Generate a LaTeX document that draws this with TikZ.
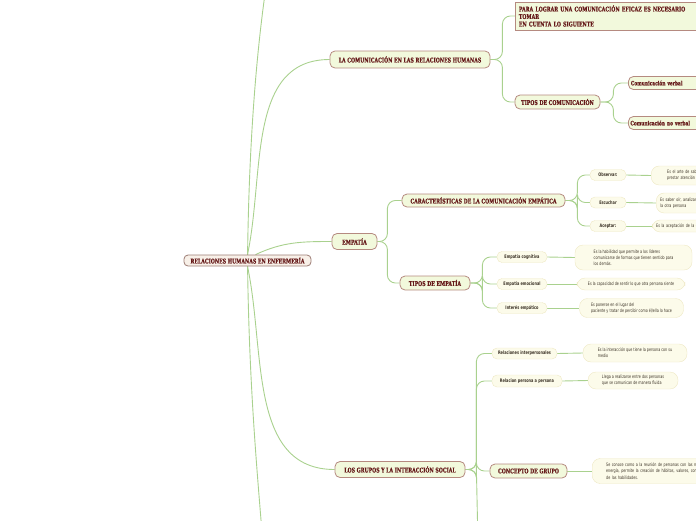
\documentclass[tikz,border=0pt]{standalone}
\usepackage{fontspec}
\setmainfont{DejaVu Sans}
\newfontfamily\slabfont[FakeStretch=0.72, FakeBold=0.4]{DejaVu Serif}
\newfontfamily\narrowfont[FakeStretch=0.72]{DejaVu Sans}
\usetikzlibrary{positioning, calc, backgrounds}
\definecolor{Maroon}{HTML}{661A1A}
\definecolor{RootFill}{HTML}{F8F0E8}
\definecolor{RootLine}{HTML}{9C7C74}
\definecolor{TopicFill}{HTML}{F2F9DC}
\definecolor{TopicLine}{HTML}{B58A80}
\definecolor{ItemFill}{HTML}{FCFBEA}
\definecolor{ItemLine}{HTML}{EEE8C4}
\definecolor{ItemText}{HTML}{3B3226}
\definecolor{Branch}{HTML}{A9D18E}

\tikzset{
    rootbox/.style={draw=RootLine, fill=RootFill, rounded corners=4pt, thick, text=Maroon,
        font=\slabfont\bfseries\fontsize{6.5}{7.5}\selectfont, inner sep=1pt},
    topic/.style={draw=TopicLine, fill=TopicFill, rounded corners=5pt, thick, text=Maroon,
        font=\slabfont\bfseries\fontsize{6.5}{7.5}\selectfont, inner sep=1pt},
    subtopic/.style={topic, font=\slabfont\bfseries\fontsize{6}{7}\selectfont},
    itembox/.style={draw=ItemLine, fill=ItemFill, rounded corners=5pt, text=ItemText,
        font=\narrowfont\bfseries\fontsize{4.8}{6}\selectfont, inner sep=1pt},
    leafbox/.style={draw=ItemLine, fill=ItemFill, rounded corners=8pt, text=ItemText,
        font=\narrowfont\fontsize{4.6}{6.2}\selectfont, align=left, inner sep=1pt},
    link/.style={draw=Branch, line width=0.9pt, rounded corners=8pt}
}

\begin{document}
\begin{tikzpicture}[x=1pt, y=1pt]
\useasboundingbox (0,0) rectangle (696,-520);
\clip (0,0) rectangle (696,-520);

% === ROOT ===
\node[rootbox, minimum width=127, minimum height=11] (root) at (247.5,-260.5) {RELACIONES HUMANAS EN ENFERMERÍA};
\coordinate (rootup) at (267,20);
\coordinate (rootdown) at (263,-545);

% === LA COMUNICACION ===
\node[topic, minimum width=160, minimum height=17] (comrel) at (410,-59.5) {LA COMUNICACIÓN EN LAS RELACIONES HUMANAS};
\node[topic, anchor=west, minimum width=181, minimum height=28, text width=174, rounded corners=0pt] (lograr) at (515,-16)
    {PARA LOGRAR UNA COMUNICACIÓN EFICAZ ES NECESARIO\\TOMAR\\EN CUENTA LO SIGUIENTE};
\node[topic, minimum width=85, minimum height=14] (tiposcom) at (557.5,-102) {TIPOS DE COMUNICACIÓN};
\node[subtopic, anchor=west, minimum width=75, minimum height=13, text width=70, align=left] (verbal) at (628,-83) {Comunicación verbal};
\node[subtopic, anchor=west, minimum width=80, minimum height=13, text width=76, align=left] (noverbal) at (628,-123) {Comunicación no verbal};

% === EMPATIA ===
\node[topic, minimum width=45, minimum height=16] (empatia) at (354.5,-241.5) {EMPATÍA};
\node[topic, minimum width=163, minimum height=13] (caract) at (483.5,-200.5) {CARACTERÍSTICAS DE LA COMUNICACIÓN EMPÁTICA};
\node[topic, minimum width=70, minimum height=14] (tiposemp) at (435,-283) {TIPOS DE EMPATÍA};

\node[itembox, minimum width=36, minimum height=11] (observar) at (608,-175) {Observar:};
\node[itembox, minimum width=36, minimum height=11] (escuchar) at (608,-202.5) {Escuchar};
\node[itembox, minimum width=36, minimum height=11] (aceptar) at (608,-226) {Aceptar:};
\node[leafbox, anchor=west, minimum width=80, minimum height=19, text width=70] (obsdef) at (651,-175.5)
    {\hspace*{11pt}Es el arte de saber observar\\\hspace*{11pt}prestar atención más allá};
\node[leafbox, anchor=west, minimum width=80, minimum height=20, text width=72] (escdef) at (656,-203)
    {Es saber oír, analizar lo que dice\\la otra persona};
\node[leafbox, anchor=west, minimum width=80, minimum height=12, text width=72] (acedef) at (652,-226)
    {Es la aceptación de la otra persona};

\node[itembox, minimum width=50, minimum height=11] (cognitiva) at (522,-257) {Empatía cognitiva};
\node[itembox, minimum width=50, minimum height=11] (emocional) at (522,-284) {Empatía emocional};
\node[itembox, minimum width=50, minimum height=11] (interes) at (522,-308) {Interés empático};
\node[leafbox, minimum width=117, minimum height=25] (cogdef) at (633.5,-257.5)
    {Es la habilidad que permite a los líderes\\comunicarse de formas que tienen sentido para\\los demás.};
\node[leafbox, minimum width=108, minimum height=12] (emodef) at (631,-284)
    {Es la capacidad de sentir lo que otra persona siente};
\node[leafbox, minimum width=104, minimum height=19] (intdef) at (631.5,-308)
    {Es ponerse en el lugar del\\paciente y tratar de percibir como él/ella lo hace};

% === LOS GRUPOS ===
\node[topic, minimum width=130, minimum height=16] (grupos) at (400,-469.5) {LOS GRUPOS Y LA INTERACCIÓN SOCIAL};
\node[itembox, minimum width=65, minimum height=11] (relint) at (524.5,-353.5) {Relaciones interpersonales};
\node[itembox, minimum width=70, minimum height=12] (relper) at (527,-381) {Relacion persona a persona};
\node[topic, minimum width=77, minimum height=14] (concepto) at (528.5,-471) {CONCEPTO DE GRUPO};
\node[leafbox, minimum width=104, minimum height=18] (relintdef) at (635,-353)
    {Es la interacción que tiene la persona con su\\medio};
\node[leafbox, minimum width=90, minimum height=17] (relperdef) at (633,-380.5)
    {Llega a realizarse entre dos personas\\que se comunican de manera fluida};
\node[leafbox, anchor=west, minimum width=110, minimum height=25, text width=130] (condef) at (592,-471)
    {\hspace*{13pt}Se conoce como a la reunión de personas con las mismas\\\hspace*{13pt}energía, permite la creación de hábitos, valores, conocimientos\\\hspace*{13pt}de las habilidades.};
\coordinate (gruposdown) at (478,-545);

% connectors
\begin{scope}[on background layer]
\draw[link] (root.center) .. controls (249,-130) and (258,-40) .. (rootup);
\draw[link] (root.center) .. controls (249,-390) and (258,-480) .. (rootdown);
\draw[link, rounded corners=0pt] (root.north) to[out=78,in=180] (comrel.west);
\draw[link, rounded corners=0pt] ($(root.north)+(8,0)$) to[out=25,in=180] (empatia.west);
\draw[link, rounded corners=0pt] (root.south) to[out=-78,in=180] (grupos.west);

\draw[link] (comrel.east) -- ++(12,0) |- (lograr.west);
\draw[link] (comrel.east) -- ++(12,0) |- (tiposcom.west);
\draw[link] (tiposcom.east) -- ++(13,0) |- (verbal.west);
\draw[link] (tiposcom.east) -- ++(13,0) |- (noverbal.west);

\draw[link] (empatia.east) -- ++(10,0) |- (caract.west);
\draw[link] (empatia.east) -- ++(10,0) |- (tiposemp.west);
\draw[link] (caract.east) -- ++(12,0) |- (observar.west);
\draw[link] (caract.east) -- ++(12,0) |- (escuchar.west);
\draw[link] (caract.east) -- ++(12,0) |- (aceptar.west);
\draw[link] (observar.east) -- (obsdef.west);
\draw[link] (escuchar.east) -- (escdef.west);
\draw[link] (aceptar.east) -- (acedef.west);
\draw[link] (tiposemp.east) -- ++(12,0) |- (cognitiva.west);
\draw[link] (tiposemp.east) -- ++(12,0) |- (emocional.west);
\draw[link] (tiposemp.east) -- ++(12,0) |- (interes.west);
\draw[link] (cognitiva.east) -- (cogdef.west);
\draw[link] (emocional.east) -- (emodef.west);
\draw[link] (interes.east) -- (intdef.west);

\draw[link] (grupos.east) -- ++(11,0) |- (relint.west);
\draw[link] (grupos.east) -- ++(11,0) |- (relper.west);
\draw[link] (grupos.east) -- ++(11,0) |- (concepto.west);
\draw[link] (grupos.east) -- ++(11,0) -- (gruposdown);
\draw[link] (relint.east) -- (relintdef.west);
\draw[link] (relper.east) -- (relperdef.west);
\draw[link] (concepto.east) -- (condef.west);
\end{scope}
\end{tikzpicture}
\end{document}
